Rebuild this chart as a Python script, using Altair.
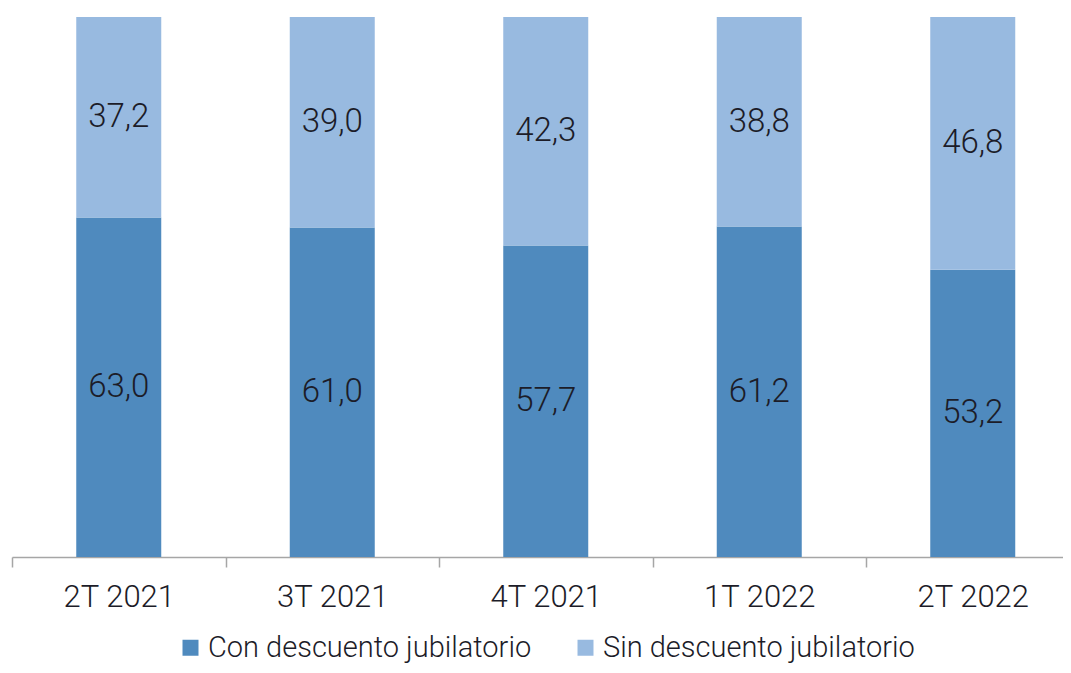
import altair as alt
import pandas as pd

categories = ["2T 2021", "3T 2021", "4T 2021", "1T 2022", "2T 2022"]
con_values = [63.0, 61.0, 57.7, 61.2, 53.2]
sin_values = [37.2, 39.0, 42.3, 38.8, 46.8]
series = ["Con descuento jubilatorio", "Sin descuento jubilatorio"]
colors = ["#4F8ABE", "#98BAE0"]

rows = []
for i, c in enumerate(categories):
    rows.append({"cat": c, "serie": series[0], "value": con_values[i], "order": 0})
    rows.append({"cat": c, "serie": series[1], "value": sin_values[i], "order": 1})
df = pd.DataFrame(rows)

FONT = "Roboto"
TXT = "#1C1C28"
PLOT_W = 1051
BAND = 213.5
cats_js = "[" + ",".join("'" + c + "'" for c in categories) + "]"

base = alt.Chart(df).transform_stack(
    stack="value", groupby=["cat"], as_=["y0", "y1"], offset="normalize",
    sort=[alt.SortField("order", order="ascending")]
).transform_calculate(
    mid="(datum.y0 + datum.y1) / 2",
    label="replace(format(datum.value, '.1f'), '.', ',')",
    pos=f"indexof({cats_js}, datum.cat) + 0.5",
)

xscale = alt.Scale(domain=[0, PLOT_W / BAND], nice=False, zero=False, padding=0)
tick_values = [i * 0.5 for i in range(2 * len(categories))]

x = alt.X(
    "pos:Q", scale=xscale,
    axis=alt.Axis(
        title=None, values=tick_values, grid=False,
        labelExpr=f"datum.value % 1 == 0 ? '' : {cats_js}[floor(datum.value)]",
        tickOpacity={"condition": {"test": "datum.value % 1 != 0", "value": 0}, "value": 1},
        labelOverlap=False, labelFlush=False, labelBound=False, labelAngle=0,
        domainColor="#A6A6A6", tickColor="#A6A6A6", domainWidth=1.5, tickWidth=1.5,
        tickSize=10, labelFontSize=31, labelFont=FONT, labelFontWeight=300,
        labelColor=TXT, labelPadding=15,
    ),
)
yscale = alt.Scale(domain=[0, 1])

bars = base.mark_bar(size=85).encode(
    x=x,
    y=alt.Y("y0:Q", scale=yscale, axis=None),
    y2="y1:Q",
    color=alt.Color(
        "serie:N", scale=alt.Scale(domain=series, range=colors),
        legend=alt.Legend(
            orient="none", legendX=164, legendY=616, direction="horizontal",
            title=None, symbolType="square", symbolSize=256, symbolStrokeWidth=0,
            labelFontSize=29, labelFont=FONT, labelFontWeight=300, labelColor=TXT,
            labelOffset=3, columnPadding=39, padding=0, labelLimit=500,
        ),
    ),
)

labels = base.mark_text(fontSize=33, font=FONT, fontWeight=300, color=TXT, baseline="middle").encode(
    x=alt.X("pos:Q", scale=xscale),
    y=alt.Y("mid:Q", scale=yscale),
    text="label:N",
)

chart = alt.layer(bars, labels).properties(
    width=PLOT_W, height=540,
    padding={"left": 4, "top": 9, "right": 0, "bottom": 108},
    autosize="none",
).configure_view(stroke=None)

chart.save("out.html", embed_options={"renderer": "svg", "actions": False})
